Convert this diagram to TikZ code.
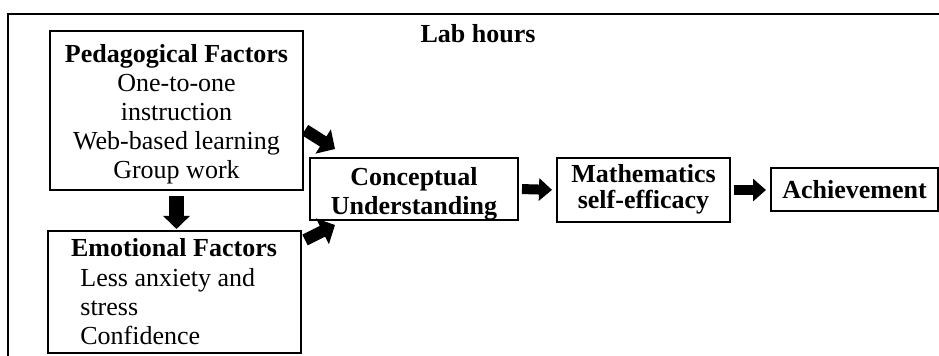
\documentclass[tikz,border=0pt]{standalone}
\usepackage{fontspec}
\setmainfont{Liberation Serif}
\usetikzlibrary{arrows.meta}
\begin{document}
\begin{tikzpicture}[x=0.5pt,y=-0.5pt,
  box/.style={draw, line width=1pt, inner sep=0pt},
  txt/.style={inner sep=0pt, font=\fontsize{13}{14.5}\selectfont},
  boldtxt/.style={txt, font=\fontsize{13}{14.5}\selectfont\bfseries},
  bigarrow/.style={line width=5pt, -{Triangle[length=6.5pt,width=11pt]}},
  slantarrow/.style={line width=6pt, -{Triangle[length=7pt,width=14pt]}},
  downarrow/.style={line width=7.5pt, -{Triangle[length=6.5pt,width=13pt]}},
]
\useasboundingbox (0,0) rectangle (939,356);
% outer frame (open to the right and bottom)
\draw[line width=1pt] (8,356) -- (8,14) -- (939,14);

\node[boldtxt, anchor=base] (lab) at (478,43) {Lab hours};

% pedagogical factors
\node[box, minimum width=126.5pt, minimum height=79.5pt] (ped) at (176.5,110.5) {};
\node[txt, align=center, anchor=north] (pedtext) at (176.5,44)
  {\textbf{Pedagogical Factors}\\One-to-one\\instruction\\Web-based learning\\Group work};

% emotional factors
\node[box, minimum width=126.5pt, minimum height=61pt] (emo) at (174.5,292) {};
\node[boldtxt, anchor=base] (emotitle) at (174,257) {Emotional Factors};
\node[txt, align=left, anchor=north west] (emoitems) at (80,268)
  {Less anxiety and\\stress\\Confidence};

% outcome chain
\node[box, minimum width=104pt, minimum height=31pt] (conc) at (414,189) {};
\node[boldtxt, align=center, anchor=north] (conctext) at (414,167)
  {Conceptual\\Understanding};
\node[box, minimum width=86.5pt, minimum height=32pt] (math) at (643.5,190) {};
\node[boldtxt, font=\fontsize{13}{13.2}\selectfont\bfseries, align=center, anchor=north] (mathtext) at (643.5,164)
  {Mathematics\\self-efficacy};
\node[box, font=\fontsize{13}{14}\selectfont\bfseries, minimum width=83.5pt, minimum height=21.5pt] (ach) at (854.5,189.5)
  {Achievement};

% block arrows
\draw[downarrow, shorten <=2.5pt, shorten >=0.5pt] (ped.south) -- (ped.south |- emo.north);
\draw[slantarrow] ([shift={(1,-61)}]ped.south east) -- ([shift={(26,-8)}]conc.north west);
\draw[slantarrow] ([shift={(3,10)}]emo.north east) -- ([shift={(26,4)}]conc.south west);
\draw[bigarrow, shorten <=1.5pt, shorten >=2pt] (conc.east) -- (math.west);
\draw[bigarrow, shorten <=1.5pt, shorten >=2pt] (math.east) -- (ach.west |- math.east);
\end{tikzpicture}
\end{document}
